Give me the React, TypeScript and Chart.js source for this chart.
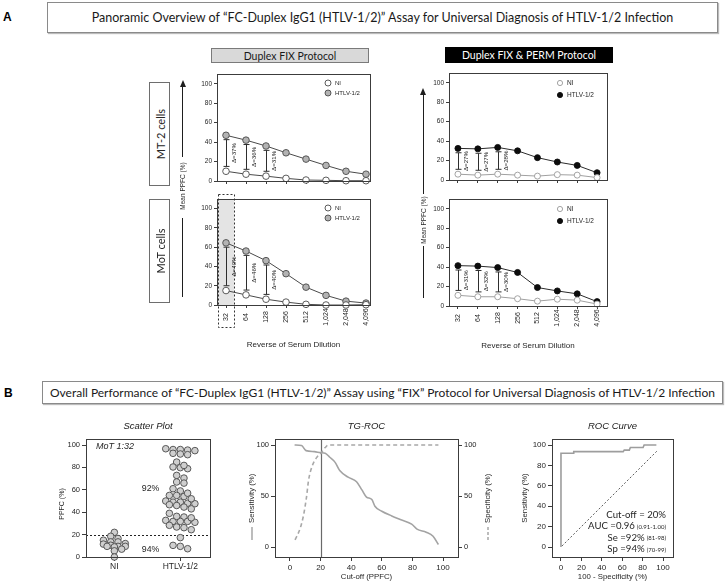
import React, { useEffect, useRef } from 'react';
import { Chart, registerables } from 'chart.js';

Chart.register(...registerables);

// ---------------- data ----------------
const dilutions = ['32', '64', '128', '256', '512', '1,024', '2,048', '4,096'];
const yTicksA = [0, 20, 40, 60, 80, 100];

const fixMt2NI = [10, 7, 5, 2.7, 1, 0.7, 0.3, 0.3];
const fixMt2HTLV = [47, 42, 36, 29, 22.5, 16, 10, 7];
const fixMt2Delta = ['Δ=37%', 'Δ=36%', 'Δ=31%'];

const fixMotNI = [15, 10.5, 6, 3, 0.7, 0, 0, 0.3];
const fixMotHTLV = [64.5, 56, 46, 32.5, 18.5, 10, 4, 2];
const fixMotDelta = ['Δ=49%', 'Δ=46%', 'Δ=40%'];

const permMt2NI = [6, 5, 6, 5, 4, 5.5, 5, 2.5];
const permMt2HTLV = [32.5, 32, 33.5, 30, 23, 18.5, 15, 7.5];
const permMt2Delta = ['Δ=27%', 'Δ=27%', 'Δ=28%'];

const permMotNI = [11, 9.5, 9.5, 7.5, 5, 7, 6, 2];
const permMotHTLV = [41.5, 41, 39.5, 34.5, 19, 15.5, 12.5, 4.5];
const permMotDelta = ['Δ=31%', 'Δ=32%', 'Δ=30%'];

const scatterGroups = ['NI', 'HTLV-1/2'];
const niPPFC = [22, 18.5, 16.5, 15, 13.5, 13.5, 12, 11.5, 10.5, 9.5, 9.5, 9.5, 9, 7, 5.5, 0];
const htlvPPFC = [
  96.7, 95, 95.5, 96, 96, 92, 91.4, 92.6, 84.8, 80.4, 78.9, 79.8, 81.8, 72.9, 70.5, 67, 66,
  55, 59, 61, 54, 55, 57, 49, 47.6, 50, 48, 49, 44.6, 46.7, 43, 46, 52, 39, 35.7, 31, 32.7,
  31.8, 31.8, 31.8, 35, 36.3, 26.8, 24.4, 26.2, 28.3, 17.3, 10.4, 7.4, 9.5,
];
const cutoffPPFC = 20;
const scatterPct = ['92%', '94%'];

const tgSeCut = [3, 7.5, 10.5, 16, 20, 23, 26, 29.5, 32.5, 38, 43.5, 47, 50, 53.5, 55.5, 60, 66.5, 73, 79.5, 83, 89, 93.5, 97];
const tgSe = [100, 99.5, 94.5, 93.5, 92.5, 92, 88, 83, 75, 68.5, 64, 56, 49, 46.5, 40, 35, 30.5, 26.5, 22.5, 17.5, 14.5, 10.5, 2.5];
const tgSpCut = [3.3, 6.7, 8.9, 10.7, 12.2, 14.4, 17.8, 20, 23, 25, 97];
const tgSp = [7, 18.5, 31.5, 48, 66, 79, 88.5, 91.5, 97.5, 100, 100];

const roc1mSp = [0, 0, 12, 12.5, 61, 62, 67, 68, 80.5, 81.5, 93.5];
const rocSe = [0, 92, 92, 93.5, 93.5, 95, 95, 97.5, 97.5, 100, 100];
const diagX = [1, 94];
const diagY = [1, 94];
const rocStat = ['Cut-off = 20%', 'AUC =0.96', 'Se =92%', 'Sp =94%'];
const rocCI = ['', '(0.91-1.00)', '(81-98)', '(70-99)'];

// ---------------- styles ----------------
const SANS = '"Liberation Sans", Arial, Helvetica, sans-serif';
const HUM = 'Lato, "Open Sans", "Noto Sans", sans-serif';
const AX = '#3c3c3c';
const TXT = '#262626';

function ChartCanvas(props: { left: number; top: number; width: number; height: number; build: () => any }) {
  const ref = useRef<HTMLCanvasElement | null>(null);
  useEffect(() => {
    const chart = new Chart(ref.current as HTMLCanvasElement, props.build());
    return () => chart.destroy();
  }, []);
  const { left, top, width, height } = props;
  return (
    <canvas
      ref={ref}
      width={width}
      height={height}
      style={{ position: 'absolute', left, top, width, height }}
    />
  );
}

function frame(ctx: any, a: any) {
  ctx.save();
  ctx.strokeStyle = AX;
  ctx.lineWidth = 1;
  ctx.strokeRect(Math.round(a.left) + 0.5, Math.round(a.top) + 0.5, Math.round(a.right - a.left), Math.round(a.bottom - a.top));
  ctx.restore();
}

function rotText(ctx: any, text: string, x: number, y: number, font: string, align: string) {
  ctx.save();
  ctx.translate(x, y);
  ctx.rotate(-Math.PI / 2);
  ctx.font = font;
  ctx.fillStyle = TXT;
  ctx.textAlign = align;
  ctx.textBaseline = 'middle';
  ctx.fillText(text, 0, 0);
  ctx.restore();
}

type Lg = { dx: number; dy0: number; dy: number; r: number; fs: number };

function panelAPlugin(deltas: string[], shade: boolean, withX: boolean, lg: Lg) {
  return {
    id: 'panelA',
    beforeDatasetsDraw(chart: any) {
      if (!shade) return;
      const { ctx, chartArea: a, scales } = chart;
      const x0 = scales.x.getPixelForValue(-0.4);
      const x1 = scales.x.getPixelForValue(0.4);
      ctx.save();
      ctx.fillStyle = '#e4e4e4';
      ctx.fillRect(x0, a.top, x1 - x0, a.bottom - a.top);
      ctx.restore();
    },
    afterDatasetsDraw(chart: any) {
      const { ctx, scales } = chart;
      const lo = chart.data.datasets[0].data;
      const hi = chart.data.datasets[1].data;
      ctx.save();
      ctx.strokeStyle = '#2e2e2e';
      ctx.lineWidth = 1;
      deltas.forEach((lab, i) => {
        const px = Math.round(scales.x.getPixelForValue(i)) + 0.5;
        const t = scales.y.getPixelForValue(hi[i].y - 4.5);
        const b = scales.y.getPixelForValue(lo[i].y + 5);
        ctx.beginPath();
        ctx.moveTo(px, t); ctx.lineTo(px, b);
        ctx.moveTo(px - 3, t); ctx.lineTo(px + 3, t);
        ctx.moveTo(px - 3, b); ctx.lineTo(px + 3, b);
        ctx.stroke();
        rotText(ctx, lab, px + 8, (t + b) / 2, `6.2px ${SANS}`, 'center');
      });
      ctx.restore();
    },
    afterDraw(chart: any) {
      const { ctx, chartArea: a, scales } = chart;
      frame(ctx, a);
      if (withX) {
        // Prism-style rotated category labels, centred on a common line below the axis
        scales.x.ticks.forEach((t: any) => {
          rotText(ctx, dilutions[t.value], scales.x.getPixelForValue(t.value), a.bottom + 12, `7px ${SANS}`, 'center');
        });
      }
      ctx.save();
      chart.data.datasets.forEach((ds: any, k: number) => {
        const mx = a.right - lg.dx;
        const my = a.top + lg.dy0 + k * lg.dy;
        ctx.beginPath();
        ctx.arc(mx, my, lg.r, 0, Math.PI * 2);
        ctx.fillStyle = ds.pointBackgroundColor;
        ctx.fill();
        ctx.strokeStyle = ds.pointBorderColor;
        ctx.lineWidth = 0.9;
        ctx.stroke();
        ctx.font = `${lg.fs}px ${SANS}`;
        ctx.fillStyle = TXT;
        ctx.textAlign = 'left';
        ctx.textBaseline = 'middle';
        ctx.fillText(ds.label, mx + 7, my);
      });
      if (shade) {
        const x0 = Math.round(scales.x.getPixelForValue(-0.4)) + 0.5;
        const x1 = Math.round(scales.x.getPixelForValue(0.4)) + 0.5;
        ctx.setLineDash([2, 2]);
        ctx.strokeStyle = '#333';
        ctx.lineWidth = 1;
        ctx.strokeRect(x0, a.top - 4.5, x1 - x0, a.bottom - a.top + 27);
      }
      ctx.restore();
    },
  };
}

function buildPanelA(
  ni: number[], htlv: number[], deltas: string[], dark: boolean, withX: boolean, shade: boolean,
  xMax: number, xHeight: number, padTop: number, lg: Lg,
) {
  return () => ({
    type: 'line',
    data: {
      datasets: [
        {
          label: 'NI',
          data: ni.map((v, i) => ({ x: i, y: v })),
          borderColor: dark ? '#a0a0a0' : '#4a4a4a',
          borderWidth: 1,
          pointRadius: dark ? 3 : 3.3,
          pointBackgroundColor: '#ffffff',
          pointBorderColor: dark ? '#9a9a9a' : '#4a4a4a',
          pointBorderWidth: 0.9,
          clip: false,
        },
        {
          label: 'HTLV-1/2',
          data: htlv.map((v, i) => ({ x: i, y: v })),
          borderColor: dark ? '#2a2a2a' : '#4a4a4a',
          borderWidth: 1,
          pointRadius: dark ? 3 : 3.3,
          pointBackgroundColor: dark ? '#0c0c0c' : '#b3b3b3',
          pointBorderColor: dark ? '#0c0c0c' : '#4a4a4a',
          pointBorderWidth: 0.9,
          clip: false,
        },
      ],
    },
    options: {
      responsive: false,
      animation: false,
      devicePixelRatio: 1,
      layout: { padding: { left: 0, right: 10, top: padTop, bottom: 0 } },
      plugins: { legend: { display: false }, tooltip: { enabled: false }, title: { display: false } },
      scales: {
        x: {
          type: 'linear',
          min: -0.45,
          max: xMax,
          afterBuildTicks: (ax: any) => { ax.ticks = dilutions.map((_, i) => ({ value: i })); },
          afterFit: (ax: any) => { ax.height = xHeight; },
          ticks: { display: false },
          grid: { drawOnChartArea: false, tickLength: 3, color: AX },
          border: { color: AX },
          title: {
            display: withX, text: 'Reverse of Serum Dilution', color: TXT,
            font: { family: SANS, size: 8 }, padding: { top: 0, bottom: 5 },
          },
        },
        y: {
          min: 0,
          max: 110,
          afterBuildTicks: (ax: any) => { ax.ticks = yTicksA.map((v) => ({ value: v })); },
          afterFit: (ax: any) => { ax.width = 37; },
          ticks: { padding: 2, color: TXT, font: { family: SANS, size: 6.5 } },
          grid: { drawOnChartArea: false, tickLength: 3, color: AX },
          border: { color: AX },
        },
      },
    },
    plugins: [panelAPlugin(deltas, shade, withX, lg)],
  });
}

// Prism-like row layout: values close in y share a row and are centred around the group
function swarmX(values: number[], center: number, pxX: number, binUnits: number, maxRow: number, gapPx: number): number[] {
  const idx = values.map((_, i) => i).sort((a, b) => values[b] - values[a]);
  const res: number[] = values.map(() => center);
  let k = 0;
  while (k < idx.length) {
    const row = [idx[k]];
    const start = values[idx[k]];
    k++;
    while (k < idx.length && row.length < maxRow && start - values[idx[k]] < binUnits) {
      row.push(idx[k]);
      k++;
    }
    row.forEach((id, j) => {
      res[id] = center + ((j - (row.length - 1) / 2) * gapPx) / pxX;
    });
  }
  return res;
}

function titleOpt(text: string) {
  return {
    display: true, text, fullSize: false, color: '#222',
    font: { family: SANS, size: 9.5, style: 'italic', weight: 'normal', lineHeight: 1.2 },
    padding: { top: 9, bottom: 6.6 },
  };
}

const axisB = (size: number) => ({
  grid: { drawOnChartArea: false, tickLength: 4, color: AX },
  border: { color: AX },
  ticks: { padding: 2, color: TXT, font: { family: SANS, size } },
});

function buildScatter() {
  const niX = swarmX(niPPFC, 1, 66, 3.5, 4, 7.3);
  const hX = swarmX(htlvPPFC, 2, 66, 4.2, 5, 7.3);
  const pt = { pointRadius: 3.3, pointBackgroundColor: '#cfcfcf', pointBorderColor: '#4a4a4a', pointBorderWidth: 0.9, clip: false };
  return {
    type: 'scatter',
    data: {
      datasets: [
        { label: scatterGroups[0], data: niPPFC.map((v, i) => ({ x: niX[i], y: v })), ...pt },
        { label: scatterGroups[1], data: htlvPPFC.map((v, i) => ({ x: hX[i], y: v })), ...pt },
      ],
    },
    options: {
      responsive: false, animation: false, devicePixelRatio: 1,
      layout: { padding: { left: 0, right: 10, top: 0, bottom: 0 } },
      plugins: { legend: { display: false }, tooltip: { enabled: false }, title: titleOpt('Scatter Plot') },
      scales: {
        x: {
          type: 'linear', min: 0.57, max: 2.45,
          afterBuildTicks: (ax: any) => { ax.ticks = [{ value: 1 }, { value: 2 }]; },
          afterFit: (ax: any) => { ax.height = 26; },
          ...axisB(8.5),
          ticks: { padding: 1, color: TXT, font: { family: SANS, size: 8.5 }, callback: (v: any) => scatterGroups[v - 1] },
        },
        y: {
          min: 0, max: 105.4,
          afterBuildTicks: (ax: any) => { ax.ticks = yTicksA.map((v) => ({ value: v })); },
          afterFit: (ax: any) => { ax.width = 29; },
          ...axisB(7.5),
        },
      },
    },
    plugins: [{
      id: 'scatterDeco',
      beforeDatasetsDraw(chart: any) {
        const { ctx, chartArea: a, scales } = chart;
        const y = Math.round(scales.y.getPixelForValue(cutoffPPFC)) + 0.5;
        ctx.save();
        ctx.setLineDash([2, 2]);
        ctx.strokeStyle = '#222';
        ctx.lineWidth = 1;
        ctx.beginPath(); ctx.moveTo(a.left, y); ctx.lineTo(a.right, y); ctx.stroke();
        ctx.restore();
      },
      afterDraw(chart: any) {
        const { ctx, chartArea: a, scales } = chart;
        frame(ctx, a);
        ctx.save();
        ctx.fillStyle = TXT;
        ctx.textBaseline = 'middle';
        ctx.font = `italic 9px ${SANS}`;
        ctx.textAlign = 'left';
        ctx.fillText('MoT 1:32', a.left + 10, a.top + 7);
        ctx.font = `8.8px ${SANS}`;
        ctx.textAlign = 'center';
        ctx.fillText(scatterPct[0], scales.x.getPixelForValue(1.55), scales.y.getPixelForValue(61.5));
        ctx.fillText(scatterPct[1], scales.x.getPixelForValue(1.55), scales.y.getPixelForValue(6.3));
        ctx.restore();
        rotText(ctx, 'PPFC (%)', a.left - 24, a.bottom - 53, `7px ${SANS}`, 'center');
      },
    }],
  };
}

function buildTG() {
  return {
    type: 'line',
    data: {
      datasets: [
        {
          label: 'Sensitivity (%)', data: tgSeCut.map((c, i) => ({ x: c, y: tgSe[i] })),
          borderColor: '#a3a3a3', borderWidth: 1.6, pointRadius: 0, tension: 0.35, cubicInterpolationMode: 'monotone', yAxisID: 'y',
        },
        {
          label: 'Specificity (%)', data: tgSpCut.map((c, i) => ({ x: c, y: tgSp[i] })),
          borderColor: '#a8a8a8', borderWidth: 1.6, borderDash: [4, 3], pointRadius: 0, cubicInterpolationMode: 'monotone', yAxisID: 'y2',
        },
      ],
    },
    options: {
      responsive: false, animation: false, devicePixelRatio: 1,
      layout: { padding: { left: 0, right: 0, top: 0, bottom: 0 } },
      plugins: { legend: { display: false }, tooltip: { enabled: false }, title: titleOpt('TG-ROC') },
      scales: {
        x: {
          type: 'linear', min: -9.8, max: 109.8,
          afterBuildTicks: (ax: any) => { ax.ticks = [0, 20, 40, 60, 80, 100].map((v) => ({ value: v })); },
          afterFit: (ax: any) => { ax.height = 26; },
          ...axisB(8),
          title: { display: true, text: 'Cut-off (PPFC)', color: TXT, font: { family: SANS, size: 7.8 }, padding: { top: 0, bottom: 1 } },
        },
        y: {
          min: -9.8, max: 105.9, position: 'left',
          afterBuildTicks: (ax: any) => { ax.ticks = [0, 50, 100].map((v) => ({ value: v })); },
          afterFit: (ax: any) => { ax.width = 28; },
          ...axisB(7.5),
        },
        y2: {
          min: -9.8, max: 105.9, position: 'right',
          afterBuildTicks: (ax: any) => { ax.ticks = [0, 50, 100].map((v) => ({ value: v })); },
          afterFit: (ax: any) => { ax.width = 35; },
          ...axisB(7.5),
        },
      },
    },
    plugins: [{
      id: 'tgDeco',
      beforeDatasetsDraw(chart: any) {
        const { ctx, chartArea: a, scales } = chart;
        const x = Math.round(scales.x.getPixelForValue(cutoffPPFC)) + 0.5;
        ctx.save();
        ctx.strokeStyle = '#6a6a6a';
        ctx.lineWidth = 1.2;
        ctx.beginPath(); ctx.moveTo(x, a.top); ctx.lineTo(x, a.bottom); ctx.stroke();
        ctx.restore();
      },
      afterDraw(chart: any) {
        const { ctx, chartArea: a } = chart;
        frame(ctx, a);
        const lineTop = a.bottom - 30;
        const xl = a.left - 23;
        const xr = a.right + 30;
        rotText(ctx, 'Sensitivity (%)', xl, lineTop - 4, `7.8px ${SANS}`, 'left');
        rotText(ctx, 'Specificity (%)', xr, lineTop - 4, `7.8px ${SANS}`, 'left');
        ctx.save();
        ctx.strokeStyle = '#999';
        ctx.lineWidth = 1.3;
        ctx.beginPath(); ctx.moveTo(xl, lineTop); ctx.lineTo(xl, lineTop + 13); ctx.stroke();
        ctx.setLineDash([3, 2]);
        ctx.beginPath(); ctx.moveTo(xr, lineTop); ctx.lineTo(xr, lineTop + 14); ctx.stroke();
        ctx.restore();
      },
    }],
  };
}

function buildROC() {
  return {
    type: 'line',
    data: {
      datasets: [
        {
          label: 'ROC', data: roc1mSp.map((x, i) => ({ x, y: rocSe[i] })),
          borderColor: '#9d9d9d', borderWidth: 1.6, pointRadius: 0, tension: 0,
        },
        {
          label: 'Reference', data: diagX.map((x, i) => ({ x, y: diagY[i] })),
          borderColor: '#333', borderWidth: 0.8, borderDash: [2, 2], pointRadius: 0, tension: 0,
        },
      ],
    },
    options: {
      responsive: false, animation: false, devicePixelRatio: 1,
      layout: { padding: { left: 0, right: 10, top: 0, bottom: 0 } },
      plugins: { legend: { display: false }, tooltip: { enabled: false }, title: titleOpt('ROC Curve') },
      scales: {
        x: {
          type: 'linear', min: -8.8, max: 109.8,
          afterBuildTicks: (ax: any) => { ax.ticks = [0, 20, 40, 60, 80, 100].map((v) => ({ value: v })); },
          afterFit: (ax: any) => { ax.height = 26; },
          ...axisB(8),
          title: { display: true, text: '100 - Specificity (%)', color: TXT, font: { family: SANS, size: 7.8 }, padding: { top: 0, bottom: 1 } },
        },
        y: {
          min: -9.8, max: 105.9,
          afterBuildTicks: (ax: any) => { ax.ticks = yTicksA.map((v) => ({ value: v })); },
          afterFit: (ax: any) => { ax.width = 32; },
          ...axisB(8),
          title: { display: true, text: 'Sensitivity (%)', color: TXT, font: { family: SANS, size: 7.8 }, padding: 0 },
        },
      },
    },
    plugins: [{
      id: 'rocDeco',
      afterDraw(chart: any) {
        const { ctx, chartArea: a } = chart;
        frame(ctx, a);
        ctx.save();
        ctx.fillStyle = TXT;
        ctx.textBaseline = 'middle';
        ctx.textAlign = 'right';
        const xr = a.right - 7;
        rocStat.forEach((s, i) => {
          const y = a.bottom - 42 + i * 11.3;
          let w = 0;
          if (rocCI[i]) {
            ctx.font = `6px ${HUM}`;
            ctx.fillText(rocCI[i], xr, y + 0.8);
            w = ctx.measureText(rocCI[i]).width + 2;
          }
          ctx.font = `9.6px ${HUM}`;
          ctx.fillText(s, xr - w, y);
        });
        ctx.restore();
      },
    }],
  };
}

// ---------------- decorations ----------------
const abs = (s: any) => ({ position: 'absolute', ...s });

function VText(p: { x: number; y: number; text: string; size: number; family?: string }) {
  return (
    <div
      style={abs({
        left: p.x, top: p.y, transform: 'translate(-50%, -50%) rotate(-90deg)', whiteSpace: 'nowrap',
        fontFamily: p.family || SANS, fontSize: p.size, color: TXT, lineHeight: 1,
      })}
    >
      {p.text}
    </div>
  );
}

function VLine(p: { x: number; y1: number; y2: number; arrow?: boolean }) {
  return (
    <>
      <div style={abs({ left: p.x - 0.5, top: p.y1 + (p.arrow ? 5 : 0), width: 1.2, height: p.y2 - p.y1 - (p.arrow ? 5 : 0), background: '#1e1e1e' })} />
      {p.arrow && (
        <div style={abs({ left: p.x - 3, top: p.y1, width: 0, height: 0, borderLeft: '3px solid transparent', borderRight: '3px solid transparent', borderBottom: '7px solid #1e1e1e' })} />
      )}
    </>
  );
}

function CellBox(p: { top: number; text: string }) {
  return (
    <div style={abs({ left: 149, top: p.top, width: 21, height: 104, border: '1px solid #6e6e6e', boxSizing: 'border-box' })}>
      <VText x={10} y={51} text={p.text} size={11} family={HUM} />
    </div>
  );
}

export default function App() {
  return (
    <div style={{ position: 'absolute', left: 0, top: 0, width: 728, height: 583, background: '#fff', overflow: 'hidden', fontFamily: HUM }}>
      <ChartCanvas left={180} top={64} width={200} height={130}
        build={buildPanelA(fixMt2NI, fixMt2HTLV, fixMt2Delta, false, false, false, 7.2, 13, 10, { dx: 42, dy0: 9, dy: 10, r: 3, fs: 6 })} />
      <ChartCanvas left={180} top={190} width={200} height={165}
        build={buildPanelA(fixMotNI, fixMotHTLV, fixMotDelta, false, true, true, 7.2, 50, 9, { dx: 42, dy0: 9, dy: 10, r: 3, fs: 6 })} />
      <ChartCanvas left={412} top={63} width={205} height={130}
        build={buildPanelA(permMt2NI, permMt2HTLV, permMt2Delta, true, false, false, 7.5, 13, 10, { dx: 47, dy0: 10, dy: 12, r: 2.6, fs: 6.5 })} />
      <ChartCanvas left={412} top={190} width={205} height={166}
        build={buildPanelA(permMotNI, permMotHTLV, permMotDelta, true, true, false, 7.5, 50, 9, { dx: 47, dy0: 10, dy: 12, r: 2.6, fs: 6.5 })} />

      <ChartCanvas left={57} top={412} width={163} height={171} build={buildScatter} />
      <ChartCanvas left={247} top={412} width={246} height={171} build={buildTG} />
      <ChartCanvas left={520} top={412} width={163} height={171} build={buildROC} />

      {/* panel A header */}
      <div style={abs({ left: 3, top: 11, fontFamily: SANS, fontWeight: 'bold', fontSize: 12, lineHeight: 1 })}>A</div>
      <div style={abs({ left: 47, top: 2, width: 671, height: 31, border: '1px solid #8a8a8a', boxSizing: 'border-box', display: 'flex', alignItems: 'center', justifyContent: 'center', fontSize: 12.5, color: '#1a1a1a', boxShadow: '1px 1px 1px #bbb' })}>
        Panoramic Overview of “FC-Duplex IgG1 (HTLV-1/2)” Assay for Universal Diagnosis of HTLV-1/2 Infection
      </div>
      <div style={abs({ left: 211, top: 48, width: 158, height: 15, background: '#d9d9d9', border: '1px solid #7a7a7a', boxSizing: 'border-box', display: 'flex', alignItems: 'center', justifyContent: 'center', fontSize: 10.5, color: '#1a1a1a' })}>
        Duplex FIX Protocol
      </div>
      <div style={abs({ left: 445, top: 47, width: 168, height: 16, background: '#000', display: 'flex', alignItems: 'center', justifyContent: 'center', fontSize: 10.5, color: '#fff' })}>
        Duplex FIX &amp; PERM Protocol
      </div>
      <CellBox top={82} text="MT-2 cells" />
      <CellBox top={199} text="MoT cells" />

      <VLine x={182.5} y1={80} y2={157} arrow />
      <VText x={183} y={186} text="Mean PPFC (%)" size={6.5} />
      <VLine x={182.5} y1={218} y2={297} />
      <VLine x={423} y1={88} y2={194} arrow />
      <VText x={424} y={220} text="Mean PPFC (%)" size={6.5} />
      <VLine x={423} y1={246} y2={298} />

      {/* panel B header */}
      <div style={abs({ left: 4, top: 387, fontFamily: SANS, fontWeight: 'bold', fontSize: 12, lineHeight: 1 })}>B</div>
      <div style={abs({ left: 42, top: 381, width: 681, height: 23, border: '1px solid #8a8a8a', boxSizing: 'border-box', display: 'flex', alignItems: 'center', justifyContent: 'center', fontSize: 12, color: '#1a1a1a', boxShadow: '1px 1px 1px #bbb', whiteSpace: 'nowrap' })}>
        Overall Performance of “FC-Duplex IgG1 (HTLV-1/2)” Assay using “FIX” Protocol for Universal Diagnosis of HTLV-1/2 Infection
      </div>
    </div>
  );
}
